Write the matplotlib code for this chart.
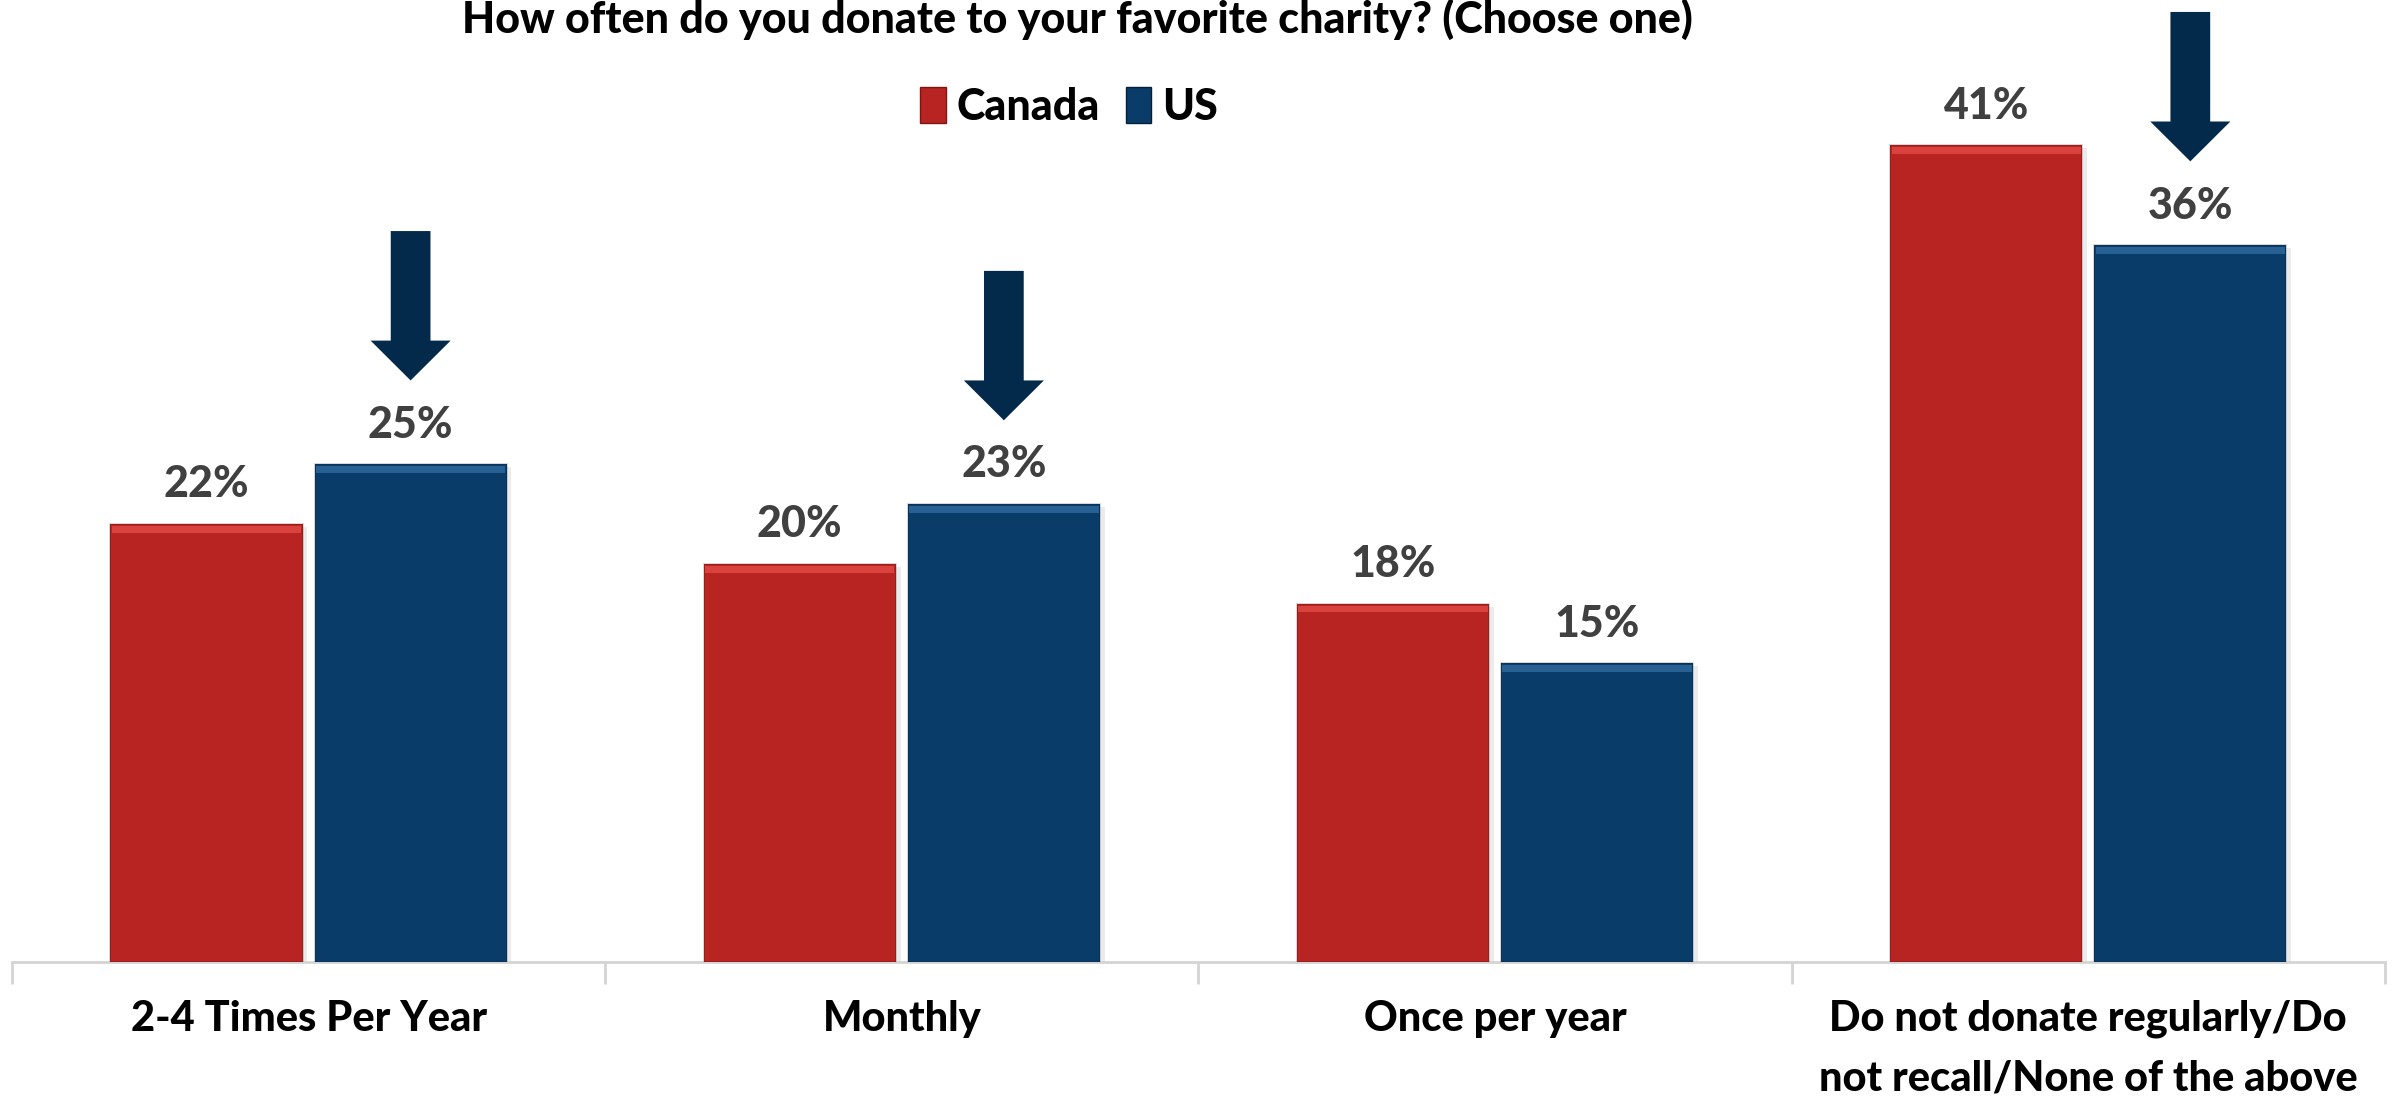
import matplotlib
matplotlib.use("Agg")
import matplotlib.pyplot as plt
from matplotlib.patches import Patch
import numpy as np

# Survey results (% of respondents)
categories = ["2-4 Times Per Year", "Monthly", "Once per year",
              "Do not donate regularly/Do\nnot recall/None of the above"]
canada = [22, 20, 18, 41]
us = [25, 23, 15, 36]
series_names = ["Canada", "US"]
# Categories whose US bar gets a downward arrow
arrow_idx = [0, 1, 3]

RED = "#B82422"
RED_HI = "#E34A45"
BLUE = "#0A3C69"
BLUE_HI = "#2F6A9E"
NAVY = "#032A4B"
LABEL_GRAY = "#404040"

FONT = "Lato"
WEIGHT = 900
plt.rcParams["font.family"] = [FONT, "DejaVu Sans"]

fig = plt.figure(figsize=(23.94, 11.02), dpi=100)
ax = fig.add_axes([0.005, 0.127, 0.9912, 0.873])

x = np.arange(len(categories))
width = 0.324
offset = 0.172


def draw_bars(xs, vals, color, hi):
    bars = ax.bar(xs, vals, width, color=color, edgecolor="#00000030",
                  linewidth=1.2, zorder=3)
    # soft shadow behind each bar
    ax.bar(xs + 0.004, vals, width + 0.008, bottom=-0.15, color="#00000014",
           linewidth=0, zorder=2)
    # bevelled highlight along the top edge
    ax.bar(xs, [0.35] * len(vals), width * 0.985, bottom=np.array(vals) - 0.45,
           color=hi, linewidth=0, zorder=4, alpha=0.8)
    return bars


b1 = draw_bars(x - offset, canada, RED, RED_HI)
b2 = draw_bars(x + offset, us, BLUE, BLUE_HI)

for xs, vals in ((x - offset, canada), (x + offset, us)):
    for xi, v in zip(xs, vals):
        ax.annotate(f"{v}%", (xi, v), xytext=(0, 14), textcoords="offset points",
                    ha="center", va="bottom", fontsize=31, fontweight=WEIGHT,
                    color=LABEL_GRAY, zorder=5)

# Down arrows above the highlighted US bars
for i in arrow_idx:
    v = us[i]
    ax.arrow(x[i] + offset, v + 11.7, 0, -7.5, width=0.067, head_width=0.135,
             head_length=2.0, length_includes_head=True, color=NAVY,
             linewidth=0, zorder=5)

ax.set_xlim(-0.5, len(categories) - 0.5)
ax.set_ylim(0, 48.3)

for s in ("top", "right", "left"):
    ax.spines[s].set_visible(False)
ax.spines["bottom"].set_color("#D4D4D4")
ax.spines["bottom"].set_linewidth(2)
ax.set_yticks([])

ax.set_xticks(x)
ax.set_xticklabels(categories, fontsize=30, fontweight=WEIGHT, color="black",
                   linespacing=1.7)
ax.tick_params(axis="x", which="major", length=0, pad=27)
ax.set_xticks(np.arange(-0.5, len(categories)), minor=True)
ax.tick_params(axis="x", which="minor", length=16, width=2, color="#D4D4D4")

fig.text(0.450, 0.970, "How often do you donate to your favorite charity? (Choose one)",
         ha="center", va="baseline", fontsize=31, fontweight=WEIGHT, color="black")

handles = [Patch(facecolor=RED, edgecolor="#7a1614"),
           Patch(facecolor=BLUE, edgecolor="#05223d")]
fig.legend(handles, series_names, loc="center", bbox_to_anchor=(0.4465, 0.903),
           ncol=2, frameon=False, handlelength=0.6, handleheight=0.9,
           handletextpad=0.25, columnspacing=0.6,
           prop={"family": FONT, "weight": WEIGHT, "size": 31})

fig.savefig("out.png", dpi=100, facecolor="white")
